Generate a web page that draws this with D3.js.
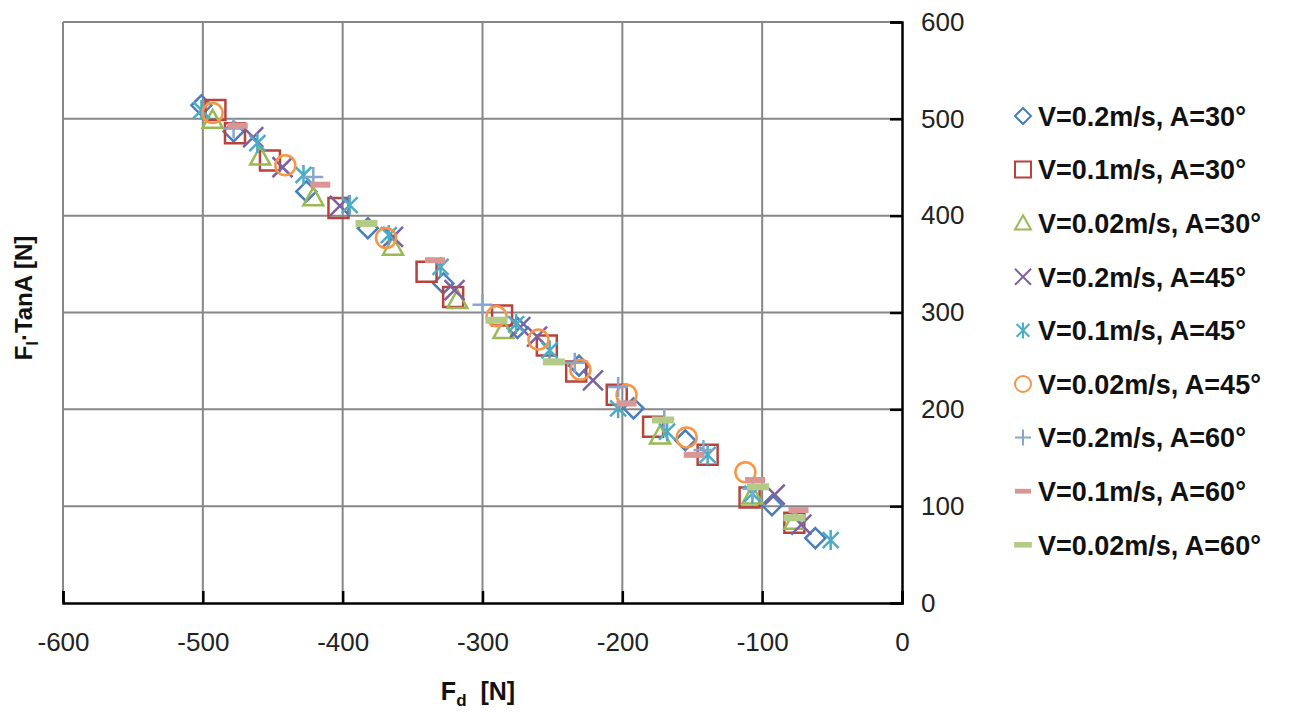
<!DOCTYPE html>
<html><head><meta charset="utf-8">
<script src="https://cdn.jsdelivr.net/npm/d3@7"></script>
<style>
html,body{margin:0;padding:0;background:#fff;}
svg{display:block;font-family:"Liberation Sans",Arial,sans-serif;}
</style></head>
<body>
<svg id="chart" width="1290" height="713"></svg>
<script>
// ---- data ----
const seriesNames = ["V=0.2m/s, A=30°","V=0.1m/s, A=30°","V=0.02m/s, A=30°","V=0.2m/s, A=45°","V=0.1m/s, A=45°","V=0.02m/s, A=45°","V=0.2m/s, A=60°","V=0.1m/s, A=60°","V=0.02m/s, A=60°"];
const s1 = [[-501,514],[-478,487],[-426,425],[-382,387],[-328,330],[-275,284],[-231,245],[-192,201],[-155,168],[-93,101],[-62,67]];
const s2 = [[-491,509],[-477,485],[-452,457],[-403,408],[-340,342],[-321,316],[-286,297],[-254,266],[-233,239],[-204,215],[-178,182],[-139,153],[-109,109],[-77,83]];
const s3 = [[-493,499],[-459,461],[-421,419],[-364,368],[-318,313],[-285,282],[-173,173],[-107,111],[-77,85]];
const s4 = [[-464,481],[-443,450],[-402,410],[-364,378],[-320,323],[-273,285],[-261,275],[-221,230],[-91,112],[-72,81]];
const s5 = [[-501,509],[-461,475],[-428,442],[-395,411],[-367,380],[-330,347],[-276,288],[-252,261],[-203,201],[-168,177],[-139,153],[-107,113],[-51,65]];
const s6 = [[-493,506],[-441,452],[-369,377],[-290,296],[-260,272],[-230,241],[-197,215],[-154,171],[-112,135]];
const s7 = [[-478,490],[-421,440],[-300,308],[-234,248],[-203,223],[-170,190],[-142,158],[-107,118]];
const s8 = [[-475,493],[-416,432],[-334,354],[-197,206],[-149,153],[-105,127],[-74,96]];
const s9 = [[-383,392],[-290,292],[-249,249],[-171,189],[-103,120],[-77,88]];
const seriesData = [s1,s2,s3,s4,s5,s6,s7,s8,s9];
const xTicks = [-600,-500,-400,-300,-200,-100,0];
const yTicks = [0,100,200,300,400,500,600];

// ---- styles ----
const colors = ["#4A7EBB","#B7433F","#98B954","#7D60A0","#4BACC6","#F79646","#8AA6CC","#D99694","#B3CB86"];
const shapes = ["diamond","square","triangle","x","star","circle","plus","dashThin","dashThick"];

function shapePath(type, h){
  switch(type){
    case "diamond": return `M0,${-h}L${h},0L0,${h}L${-h},0Z`;
    case "square": return `M${-h},${-h}H${h}V${h}H${-h}Z`;
    case "triangle": return `M0,${-h}L${h},${h*0.8}L${-h},${h*0.8}Z`;
    case "x": return `M${-h},${-h}L${h},${h}M${-h},${h}L${h},${-h}`;
    case "star": return `M${-h*0.8},${-h*0.8}L${h*0.8},${h*0.8}M${-h*0.8},${h*0.8}L${h*0.8},${-h*0.8}M0,${-h}V${h}`;
    case "circle": return `M${h},0A${h},${h} 0 1,1 ${-h},0A${h},${h} 0 1,1 ${h},0Z`;
    case "plus": return `M${-h},0H${h}M0,${-h}V${h}`;
    case "dashThin": return `M${-h},${-h*0.3}H${h}V${h*0.3}H${-h}Z`;
    case "dashThick": return `M${-h*1.1},${-h*0.35}H${h*1.1}V${h*0.35}H${-h*1.1}Z`;
  }
}
const filled = {dashThin:true, dashThick:true};

const svg = d3.select("#chart");
const x = d3.scaleLinear().domain([-600,0]).range([63,902]);
const y = d3.scaleLinear().domain([0,600]).range([603,22]);

// grid
svg.append("g").selectAll("line").data(xTicks.slice(0,-1)).join("line")
  .attr("x1",d=>x(d)).attr("x2",d=>x(d)).attr("y1",y(600)).attr("y2",y(0))
  .attr("stroke","#878787").attr("stroke-width",2);
svg.append("g").selectAll("line").data(yTicks.slice(1)).join("line")
  .attr("x1",x(-600)).attr("x2",x(0)).attr("y1",d=>y(d)).attr("y2",d=>y(d))
  .attr("stroke","#878787").attr("stroke-width",2);

// axes
const fmt = d => String(d);
const xAxis = d3.axisBottom(x).tickValues(xTicks).tickSize(-12).tickPadding(20).tickFormat(fmt);
const gx = svg.append("g").attr("transform",`translate(0,${y(0)})`).call(xAxis);
gx.select(".domain").attr("stroke","#000").attr("stroke-width",2.5);
gx.selectAll(".tick line").attr("stroke","#000").attr("stroke-width",2.5);
gx.selectAll(".tick text").attr("font-size",26).attr("fill","#222").attr("font-family","Liberation Sans, Arial, sans-serif").attr("dy","0.71em").attr("y",30);

const yAxis = d3.axisRight(y).tickValues(yTicks).tickSize(-12).tickPadding(20).tickFormat(fmt);
const gy = svg.append("g").attr("transform",`translate(${x(0)},0)`).call(yAxis);
gy.select(".domain").attr("stroke","#000").attr("stroke-width",2.5);
gy.selectAll(".tick line").attr("stroke","#000").attr("stroke-width",2.5);
gy.selectAll(".tick text").attr("font-size",26).attr("fill","#222").attr("font-family","Liberation Sans, Arial, sans-serif").attr("x",19);

// points
seriesData.forEach((data,i)=>{
  svg.append("g").selectAll("path").data(data).join("path")
    .attr("transform",d=>`translate(${x(d[0])},${y(d[1])})`)
    .attr("d",shapePath(shapes[i],10))
    .attr("fill",filled[shapes[i]]?colors[i]:"none")
    .attr("stroke",filled[shapes[i]]?"none":colors[i])
    .attr("stroke-width",2.5);
});

// legend
const leg = svg.append("g");
seriesNames.forEach((name,i)=>{
  const ly = 116 + i*53.6;
  leg.append("path").attr("transform",`translate(1023,${ly})`)
    .attr("d",shapePath(shapes[i],8))
    .attr("fill",filled[shapes[i]]?colors[i]:"none")
    .attr("stroke",filled[shapes[i]]?"none":colors[i])
    .attr("stroke-width",2);
  leg.append("text").attr("x",1038).attr("y",ly).attr("dy","0.36em")
    .attr("font-size",27).attr("font-weight","bold").attr("fill","#111").text(name);
});

// axis titles
const xt = svg.append("text").attr("x",478).attr("y",700).attr("text-anchor","middle")
  .attr("font-size",25).attr("font-weight","bold").attr("fill","#111");
xt.append("tspan").text("F");
xt.append("tspan").attr("font-size",17).attr("dy",6).text("d");
xt.append("tspan").attr("dy",-6).attr("xml:space","preserve").text("  [N]");

const yt = svg.append("text").attr("transform","translate(32,298) rotate(-90)").attr("text-anchor","middle")
  .attr("font-size",24).attr("font-weight","bold").attr("fill","#111");
yt.append("tspan").text("F");
yt.append("tspan").attr("font-size",16).attr("dy",6).text("l");
yt.append("tspan").attr("dy",-6).text("·TanA [N]");
</script>
</body></html>
